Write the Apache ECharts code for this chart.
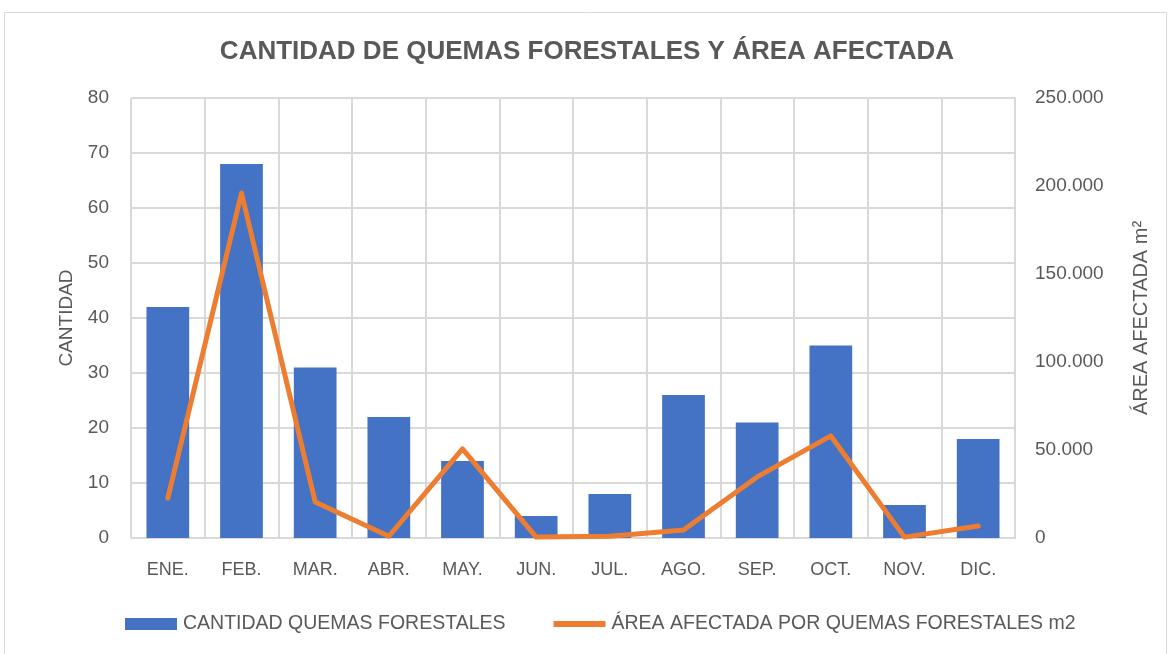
<!DOCTYPE html>
<html>
<head>
<meta charset="utf-8">
<script src="https://cdn.jsdelivr.net/npm/echarts@6/dist/echarts.min.js"></script>
<style>
  html, body { margin: 0; padding: 0; background: #fff; }
  #chart { width: 1174px; height: 654px; }
</style>
</head>
<body>
<div id="chart"></div>
<script>
// meses
var meses = ['ENE.', 'FEB.', 'MAR.', 'ABR.', 'MAY.', 'JUN.', 'JUL.', 'AGO.', 'SEP.', 'OCT.', 'NOV.', 'DIC.'];
// cantidad de quemas por mes
var cantidadQuemas = [42, 68, 31, 22, 14, 4, 8, 26, 21, 35, 6, 18];
// area afectada en m2
var areaAfectada = [22700, 196000, 20500, 1000, 50600, 500, 1000, 4500, 34700, 58000, 500, 6800];

var FUENTE = "'Liberation Sans', sans-serif";
var GRIS = '#595959';

function formatoMiles(v) {
    return String(v).replace(/\B(?=(\d{3})+(?!\d))/g, '.');
}

var chart = echarts.init(document.getElementById('chart'));
chart.setOption({
    animation: false,
    graphic: [{
        type: 'rect',
        shape: { x: 4.5, y: 12.5, width: 1162, height: 680 },
        style: { fill: 'none', stroke: '#d9d9d9', lineWidth: 1 }
    }],
    title: {
        text: 'CANTIDAD DE QUEMAS FORESTALES Y ÁREA AFECTADA',
        left: 'center',
        top: 34,
        textStyle: { fontFamily: FUENTE, fontSize: 26, fontWeight: 'bold', color: GRIS }
    },
    legend: {
        bottom: 15,
        left: 120,
        itemGap: 48,
        itemWidth: 52,
        itemHeight: 12,
        textStyle: { fontFamily: FUENTE, fontSize: 19.5, color: GRIS, padding: [0, 0, 0, 1] },
        data: [
            { name: 'CANTIDAD QUEMAS FORESTALES', icon: 'rect' },
            { name: 'ÁREA AFECTADA POR QUEMAS FORESTALES m2', icon: 'path://M0,0 L52,0 L52,6 L0,6 Z' }
        ]
    },
    grid: { left: 131, right: 159, top: 98, bottom: 116 },
    xAxis: {
        type: 'category',
        data: meses,
        axisTick: { show: false },
        axisLine: { lineStyle: { color: '#d9d9d9', width: 2 } },
        axisLabel: { fontFamily: FUENTE, fontSize: 18, color: GRIS, margin: 23 },
        splitLine: { show: true, lineStyle: { color: '#d9d9d9', width: 2 } }
    },
    yAxis: [{
        type: 'value',
        min: 0, max: 80, interval: 10,
        name: 'CANTIDAD',
        nameLocation: 'middle',
        nameGap: 55,
        nameTextStyle: { fontFamily: FUENTE, fontSize: 19, color: GRIS },
        axisLabel: { fontFamily: FUENTE, fontSize: 19, color: GRIS, margin: 22 },
        splitLine: { lineStyle: { color: '#d9d9d9', width: 2 } }
    }, {
        type: 'value',
        min: 0, max: 250000, interval: 50000,
        name: 'ÁREA AFECTADA m²',
        nameLocation: 'middle',
        nameGap: 116,
        nameRotate: 90,
        nameTextStyle: { fontFamily: FUENTE, fontSize: 20, color: GRIS },
        axisLine: { show: true, lineStyle: { color: '#d9d9d9', width: 2 } },
        axisLabel: { fontFamily: FUENTE, fontSize: 19, color: GRIS, margin: 20, formatter: formatoMiles },
        splitLine: { show: false }
    }],
    series: [{
        name: 'CANTIDAD QUEMAS FORESTALES',
        type: 'bar',
        data: cantidadQuemas,
        barWidth: '58%',
        itemStyle: { color: '#4472c4' }
    }, {
        name: 'ÁREA AFECTADA POR QUEMAS FORESTALES m2',
        type: 'line',
        yAxisIndex: 1,
        data: areaAfectada,
        symbol: 'none',
        lineStyle: { color: '#ed7d31', width: 5, cap: 'round', join: 'round' },
        itemStyle: { color: '#ed7d31' }
    }]
});
</script>
</body>
</html>
